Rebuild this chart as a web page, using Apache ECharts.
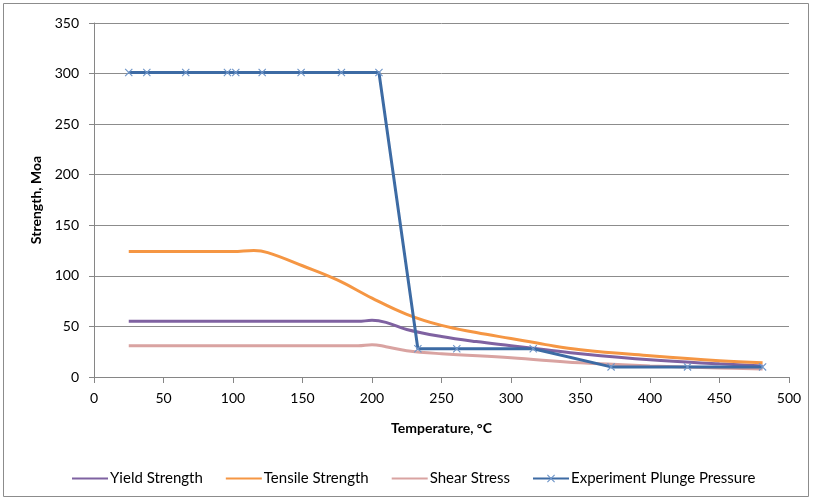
<!DOCTYPE html>
<html>
<head>
<meta charset="utf-8">
<script src="https://cdn.jsdelivr.net/npm/echarts@6/dist/echarts.min.js"></script>
<style>html,body{margin:0;padding:0;background:#fff}#c{width:813px;height:500px}</style>
</head>
<body>
<div id="c"></div>
<script>
var xTicks = [0, 50, 100, 150, 200, 250, 300, 350, 400, 450, 500];
var yTicks = [0, 50, 100, 150, 200, 250, 300, 350];

var yieldTemp = [25, 100, 190, 200, 210, 225, 250, 275, 300, 325, 350, 400, 450, 481];
var yieldVal  = [55, 55, 55, 56, 54, 47, 40, 35, 31, 27, 23, 17, 13, 11];

var tensileTemp = [25, 100, 115, 125, 150, 175, 200, 225, 250, 275, 300, 325, 350, 400, 450, 481];
var tensileVal  = [124, 124, 125, 123, 110, 96, 78, 62, 51, 44, 38, 32, 27, 21, 16, 14];

var shearTemp = [25, 100, 190, 200, 210, 225, 250, 300, 350, 400, 450, 481];
var shearVal  = [31, 31, 31, 32, 30, 26, 23, 19, 14, 11, 9, 8];

var expTemp = [25, 38, 66, 96, 102, 121, 149, 178, 205, 233, 261, 316, 372, 427, 481];
var expVal  = [301, 301, 301, 301, 301, 301, 301, 301, 301, 28, 28, 28, 10, 10, 10];

function pairs(xs, ys) { return xs.map(function (x, i) { return [x, ys[i]]; }); }

var crossPath = 'path://M0,1L1,0L5,4L9,0L10,1L6,5L10,9L9,10L5,6L1,10L0,9L4,5Z';
var font = 'Lato, "Open Sans", sans-serif';

var chart = echarts.init(document.getElementById('c'));
chart.setOption({
  animation: false,
  backgroundColor: '#fff',
  textStyle: { fontFamily: font },
  graphic: [{
    type: 'rect', shape: { x: 3.5, y: 3.5, width: 805, height: 493 },
    style: { fill: 'none', stroke: '#8c8c8c', lineWidth: 1 }, silent: true
  }],
  grid: { left: 94, right: 24, top: 23, bottom: 123 },
  xAxis: {
    type: 'value', min: 0, max: 500, interval: 50,
    name: 'Temperature, \u00b0C', nameLocation: 'middle', nameGap: 44,
    nameTextStyle: { fontWeight: 'bold', fontSize: 14, color: '#000', fontFamily: font },
    axisLine: { lineStyle: { color: '#868686' } },
    axisTick: { show: true, length: 6, lineStyle: { color: '#868686' } },
    axisLabel: { margin: 14, fontSize: 14, color: '#000', fontFamily: font,
      formatter: function (v) { return xTicks.indexOf(v) >= 0 ? String(v) : ''; } },
    splitLine: { show: false }
  },
  yAxis: {
    type: 'value', min: 0, max: 350, interval: 50,
    name: 'Strength, Moa', nameLocation: 'middle', nameGap: 46,
    nameTextStyle: { fontWeight: 'bold', fontSize: 14, color: '#000', fontFamily: font },
    axisLine: { show: true, lineStyle: { color: '#868686' } },
    axisTick: { show: true, length: 5, lineStyle: { color: '#868686' } },
    axisLabel: { margin: 15, fontSize: 14, color: '#000', fontFamily: font,
      formatter: function (v) { return yTicks.indexOf(v) >= 0 ? String(v) : ''; } },
    splitLine: { show: true, lineStyle: { color: '#8c8c8c', width: 1 } }
  },
  legend: {
    left: 66, top: 466, itemWidth: 36, itemHeight: 10, itemGap: 22,
    textStyle: { fontSize: 15, color: '#000', fontFamily: font, padding: [0, 0, 0, -3] },
    data: [
      { name: 'Yield Strength', itemStyle: { opacity: 0 } },
      { name: 'Tensile Strength', itemStyle: { opacity: 0 } },
      { name: 'Shear Stress', itemStyle: { opacity: 0 } },
      { name: 'Experiment Plunge Pressure' }
    ]
  },
  series: [
    { name: 'Yield Strength', type: 'line', smooth: 0.4, symbol: 'none',
      data: pairs(yieldTemp, yieldVal), color: '#7f62a1', lineStyle: { width: 3, color: '#7f62a1' } },
    { name: 'Tensile Strength', type: 'line', smooth: 0.4, symbol: 'none',
      data: pairs(tensileTemp, tensileVal), color: '#f59643', lineStyle: { width: 3, color: '#f59643' } },
    { name: 'Shear Stress', type: 'line', smooth: 0.4, symbol: 'none',
      data: pairs(shearTemp, shearVal), color: '#d9a3a1', lineStyle: { width: 3, color: '#d9a3a1' } },
    { name: 'Experiment Plunge Pressure', type: 'line', smooth: false,
      symbol: crossPath, symbolSize: 8,
      data: pairs(expTemp, expVal), color: '#3d6ba4',
      itemStyle: { color: '#6f95c8' },
      lineStyle: { width: 3, color: '#3d6ba4' } }
  ]
});
</script>
</body>
</html>
